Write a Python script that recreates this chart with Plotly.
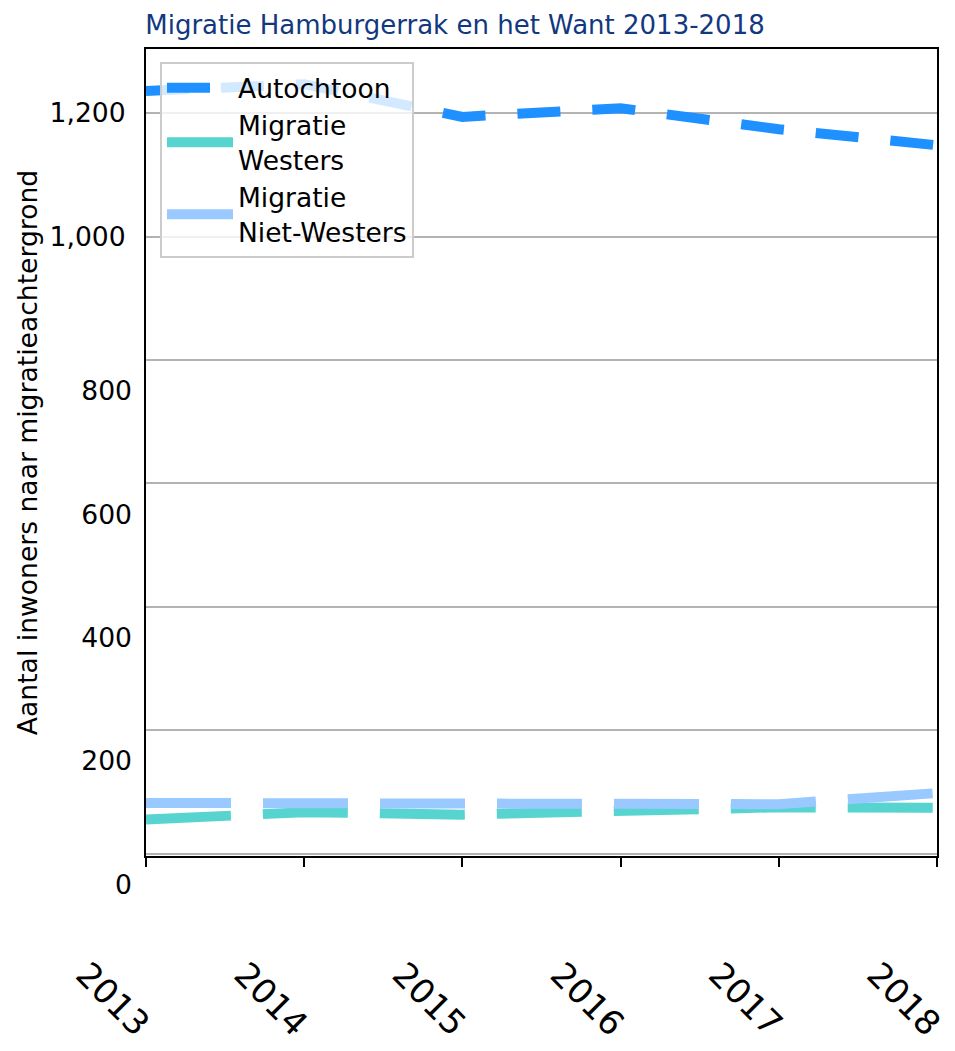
import plotly.graph_objects as go

# ---- data ----
years = [2013, 2014, 2015, 2016, 2017, 2018]
autochtoon = [1236, 1247, 1194, 1208, 1174, 1148]
migratie_westers = [55, 67, 63, 68, 75, 74]
migratie_niet_westers = [82, 82, 80, 83, 80, 98]

series_names = ["Autochtoon", "Migratie<br>Westers", "Migratie<br>Niet-Westers"]
series_colors = ["#1e90ff", "#57d4cf", "#99c9ff"]

y_tick_values = [0, 200, 400, 600, 800, 1000, 1200]
x_tick_labels = [str(y) for y in years]

title_text = "Migratie Hamburgerrak en het Want 2013-2018"
y_title = "Aantal inwoners naar migratieachtergrond"

FONT = "DejaVu Sans"
FS = 26.6
Y_RANGE = [-4, 1304]
OFF = 8  # default page body margin

fig = go.Figure()
dashes = ["43px,32px", "85px,32px", "85px,32px"]
for name, vals, col, dash in zip(series_names,
                                  [autochtoon, migratie_westers, migratie_niet_westers],
                                  series_colors, dashes):
    fig.add_trace(go.Scatter(x=years, y=vals, name=name, mode="lines",
                             line=dict(color=col, width=10, dash=dash)))

# helper trace so the secondary label axis is drawn
fig.add_trace(go.Scatter(x=[None], y=[None], yaxis="y2", showlegend=False,
                         hoverinfo="skip", mode="lines"))

lower = [v for v in y_tick_values if v < 1000]

W, H = 955 - OFF, 1051 - OFF
fig.update_layout(
    width=W, height=H,
    margin=dict(l=146 - OFF, r=18, t=49 - OFF, b=195, autoexpand=False),
    paper_bgcolor="white", plot_bgcolor="white",
    font=dict(family=FONT, size=FS, color="black"),
    title=dict(text=title_text, x=(455 - OFF) / W, xref="container", xanchor="center",
               y=1 - (25 - OFF) / H, yref="container", yanchor="middle",
               font=dict(family=FONT, size=26, color="#12397f")),
    showlegend=True,
    legend=dict(x=0.0177, y=0.984, xanchor="left", yanchor="top",
                bgcolor="rgba(255,255,255,0.8)", bordercolor="#cccccc", borderwidth=2,
                font=dict(family=FONT, size=26.5, color="black"),
                itemwidth=66, tracegroupgap=0),
    xaxis=dict(range=[years[0], years[-1]], tickvals=years, ticktext=x_tick_labels,
               tickangle=45, ticks="outside", ticklen=9, tickwidth=2, tickcolor="black",
               showline=True, linecolor="black", linewidth=2, mirror=True,
               showgrid=False, zeroline=False, ticklabelstandoff=74, ticklabelshift=-60,
               tickfont=dict(family=FONT, size=34, color="black")),
    yaxis=dict(range=Y_RANGE, tickvals=y_tick_values,
               ticktext=[f"{v:,}" if v >= 1000 else "" for v in y_tick_values],
               showgrid=True, gridcolor="#b3b3b3", gridwidth=2,
               showline=True, linecolor="black", linewidth=2, mirror=True,
               zeroline=False, ticks="", ticklabelstandoff=13,
               tickfont=dict(family=FONT, size=FS, color="black"),
               title=dict(text=y_title, standoff=4,
                          font=dict(family=FONT, size=FS, color="black"))),
    yaxis2=dict(range=Y_RANGE, overlaying="y", side="left", anchor="x",
                tickvals=lower, ticktext=[f"{v:,}" for v in lower],
                showgrid=False, showline=False, zeroline=False, ticks="",
                ticklabelshift=31, ticklabelstandoff=13,
                tickfont=dict(family=FONT, size=FS, color="black")),
)

fig.write_html("out.html")
